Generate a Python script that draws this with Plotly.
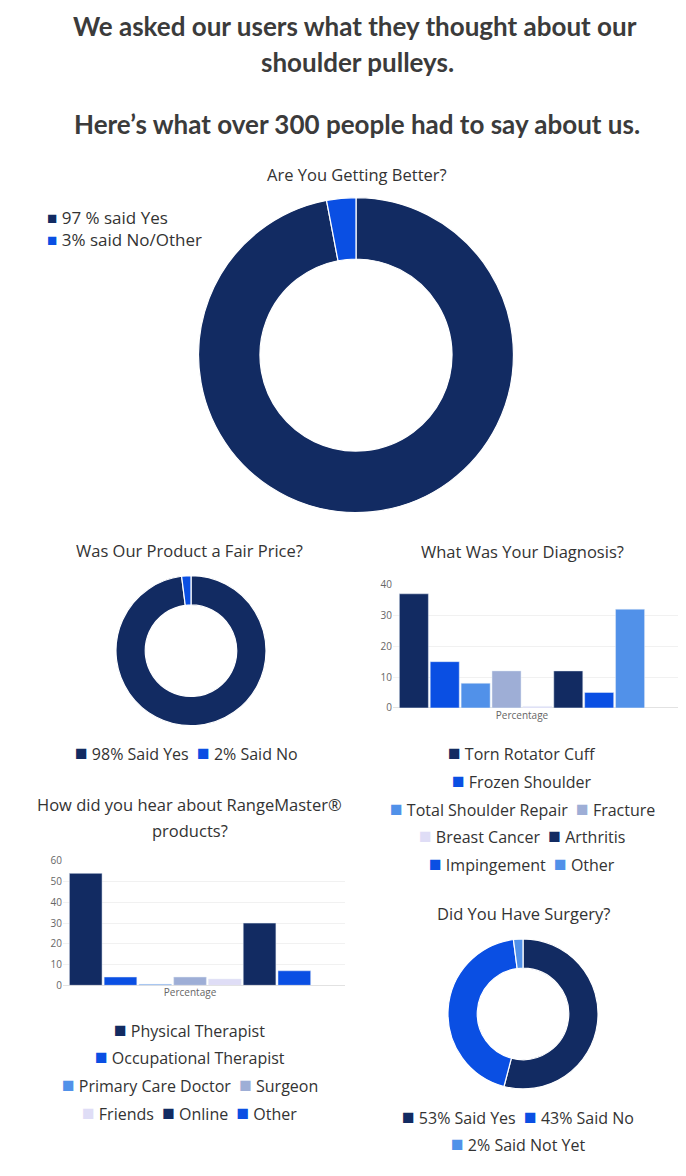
import plotly.graph_objects as go

# Page is 686x1176; the browser body keeps an 8px margin, so the figure is 670x1160
PAGE_W, PAGE_H = 686, 1176
PAD = 8
W, H = PAGE_W - 2 * PAD, PAGE_H - 2 * PAD

NAVY = "#122b62"
BLUE = "#0a4fe3"
LIGHT = "#5191e9"
GRAYBLUE = "#9eaed6"
LAVENDER = "#dfddf6"

heading_lines = [
    "We asked our users what they thought about our",
    "shoulder pulleys.",
    "Here\u2019s what over 300 people had to say about us.",
]

better_title = "Are You Getting Better?"
better_labels = ["97 % said Yes", "3% said No/Other"]
better_values = [97, 3]
better_colors = [NAVY, BLUE]

price_title = "Was Our Product a Fair Price?"
price_labels = ["98% Said Yes", "2% Said No"]
price_values = [98, 2]
price_colors = [NAVY, BLUE]

diag_title = "What Was Your Diagnosis?"
diag_labels = ["Torn Rotator Cuff", "Frozen Shoulder", "Total Shoulder Repair", "Fracture",
               "Breast Cancer", "Arthritis", "Impingement", "Other"]
diag_values = [37, 15, 8, 12, 0.5, 12, 5, 32]
diag_colors = [NAVY, BLUE, LIGHT, GRAYBLUE, LAVENDER, NAVY, BLUE, LIGHT]
diag_rows = [[0], [1], [2, 3], [4, 5], [6, 7]]
diag_ticks = [0, 10, 20, 30, 40]

hear_title_lines = ["How did you hear about RangeMaster\u00ae", "products?"]
hear_labels = ["Physical Therapist", "Occupational Therapist", "Primary Care Doctor", "Surgeon",
               "Friends", "Online", "Other"]
hear_values = [54, 4, 0.5, 4, 3, 30, 7]
hear_colors = [NAVY, BLUE, LIGHT, GRAYBLUE, LAVENDER, NAVY, BLUE]
hear_rows = [[0], [1], [2, 3], [4, 5, 6]]
hear_ticks = [0, 10, 20, 30, 40, 50, 60]

surgery_title = "Did You Have Surgery?"
surgery_labels = ["53% Said Yes", "43% Said No", "2% Said Not Yet"]
surgery_values = [53, 43, 2]
surgery_colors = [NAVY, BLUE, LIGHT]
surgery_rows = [[0, 1], [2]]

category = ["Percentage"]

TEXT_FONT = "Open Sans"
TEXT_COLOR = "#333333"


def fx(px):
    return (px - PAD) / W


def fy(py):
    return 1 - (py - PAD) / H


fig = go.Figure()


def add_pie(labels, values, colors, x0, x1, y0, y1):
    fig.add_trace(go.Pie(
        labels=labels, values=values, sort=False, direction="clockwise", rotation=0,
        hole=0.61, textinfo="none", showlegend=False, hoverinfo="label",
        marker=dict(colors=colors, line=dict(color="white", width=1.2)),
        domain=dict(x=[fx(x0), fx(x1)], y=[fy(y1), fy(y0)]),
    ))


add_pie(better_labels, better_values, better_colors, 197, 515, 192, 511)
add_pie(price_labels, price_values, price_colors, 115, 267, 575, 727)
add_pie(surgery_labels, surgery_values, surgery_colors, 447, 599, 943, 1095)

for lab, val, col in zip(diag_labels, diag_values, diag_colors):
    fig.add_trace(go.Bar(x=category, y=[val], name=lab, marker_color=col,
                         showlegend=False, xaxis="x", yaxis="y"))
for lab, val, col in zip(hear_labels, hear_values, hear_colors):
    fig.add_trace(go.Bar(x=category, y=[val], name=lab, marker_color=col,
                         showlegend=False, xaxis="x2", yaxis="y2"))

axis_font = dict(family=TEXT_FONT, size=10, color="#666666")

fig.update_layout(
    width=W, height=H, margin=dict(l=0, r=0, t=0, b=0),
    paper_bgcolor="white", plot_bgcolor="white",
    barmode="group", bargap=0.042, bargroupgap=0.06,
    xaxis=dict(domain=[fx(393), fx(678)], anchor="y", range=[-0.5, 0.605],
               tickfont=axis_font, showgrid=False, showline=False, zeroline=False, ticks=""),
    yaxis=dict(domain=[fy(709), fy(584)], anchor="x", range=[0, 40], tickvals=diag_ticks,
               tickfont=axis_font, showgrid=True, gridcolor="#f1f1f1", zeroline=True,
               zerolinecolor="#e2e2e2", zerolinewidth=1, ticks=""),
    xaxis2=dict(domain=[fx(63), fx(345)], anchor="y2", range=[-0.5, 0.61],
                tickfont=axis_font, showgrid=False, showline=False, zeroline=False, ticks=""),
    yaxis2=dict(domain=[fy(990), fy(864)], anchor="x2", range=[0, 60], tickvals=hear_ticks,
                tickfont=axis_font, showgrid=True, gridcolor="#f1f1f1", zeroline=True,
                zerolinecolor="#e2e2e2", zerolinewidth=1, ticks=""),
)

annotations = []

# Heading
for text, py, cx in zip(heading_lines, [18, 55, 117], [355, 357, 357]):
    annotations.append(dict(
        text="<b>" + text + "</b>", x=fx(cx), y=fy(py), xref="paper", yref="paper",
        xanchor="center", yanchor="middle", showarrow=False,
        font=dict(family="Lato", size=26, color="#3b3b3b"),
    ))

# Chart titles
for text, cx, py in [(better_title, 357, 169), (price_title, 190, 550), (diag_title, 522, 551),
                     (hear_title_lines[0], 190, 807), (hear_title_lines[1], 190, 833),
                     (surgery_title, 523, 917)]:
    annotations.append(dict(
        text=text, x=fx(cx), y=fy(py), xref="paper", yref="paper",
        xanchor="center", yanchor="middle", showarrow=False,
        font=dict(family=TEXT_FONT, size=16.5, color=TEXT_COLOR),
    ))


def entry(label, color, sq=21):
    return ("<span style='color:%s;font-size:%dpx'>\u25a0</span> %s" % (color, sq, label))


def legend_rows(labels, colors, rows, cx, py0, step):
    for r, idxs in enumerate(rows):
        text = "  ".join(entry(labels[i], colors[i]) for i in idxs)
        annotations.append(dict(
            text=text, x=fx(cx), y=fy(py0 + r * step), xref="paper", yref="paper",
            xanchor="center", yanchor="middle", showarrow=False,
            font=dict(family=TEXT_FONT, size=16, color=TEXT_COLOR),
        ))


# Vertical legend of the first donut: one text block, one entry per line
annotations.append(dict(
    text="<br>".join(entry(l, c, sq=17) for l, c in zip(better_labels, better_colors)),
    x=fx(45), y=fy(223), xref="paper", yref="paper", xanchor="left", yanchor="middle",
    align="left", showarrow=False,
    font=dict(family=TEXT_FONT, size=17, color=TEXT_COLOR),
))

legend_rows(price_labels, price_colors, [[0, 1]], 186, 754, 28)
legend_rows(diag_labels, diag_colors, diag_rows, 522, 754, 28)
legend_rows(hear_labels, hear_colors, hear_rows, 190, 1034, 28)
legend_rows(surgery_labels, surgery_colors, surgery_rows, 518, 1122, 28)

fig.update_layout(annotations=annotations)

fig.write_html("out.html", config={"displayModeBar": False})
